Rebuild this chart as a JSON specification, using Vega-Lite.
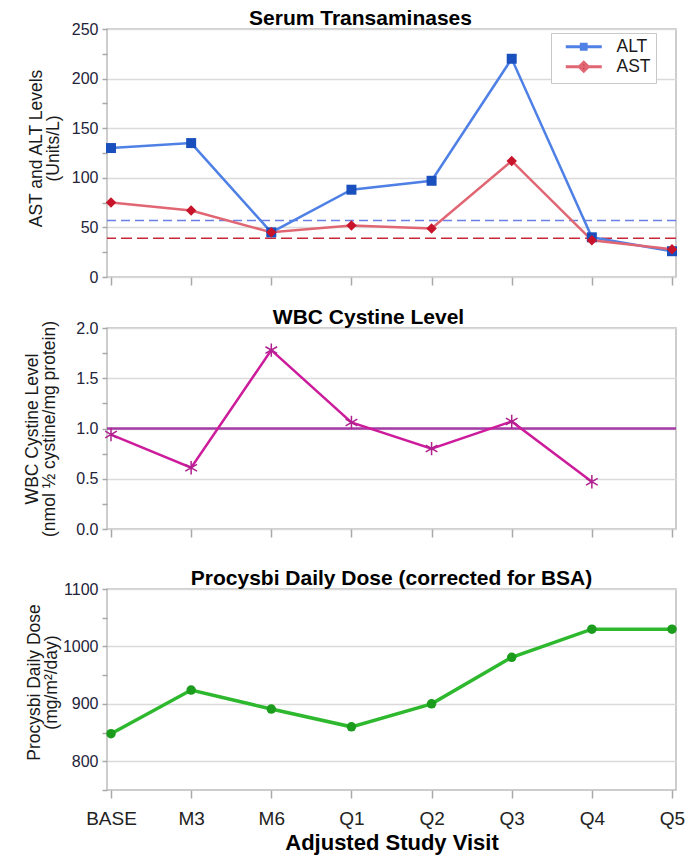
{
  "$schema": "https://vega.github.io/schema/vega-lite/v6.json",
  "background": "white",
  "padding": {"left": 22, "top": 7, "right": 5, "bottom": 5},
  "spacing": 19,
  "config": {
    "font": "Liberation Sans",
    "view": {"stroke": "#bdbdbd", "strokeWidth": 1.5},
    "title": {"fontSize": 21, "fontWeight": "bold", "color": "#000", "offset": -8, "anchor": "middle", "frame": "group"},
    "axis": {
      "labelFont": "Liberation Sans", "labelFontSize": 16, "labelColor": "#23233a", "labelOverlap": false,
      "titleFont": "Liberation Sans", "titleFontWeight": "normal", "titleFontSize": 17.5, "titleLineHeight": 17, "titleColor": "#1a1a1a",
      "domain": false, "tickColor": "#a8a8a8", "tickWidth": 1.5, "gridColor": "#dadada", "gridWidth": 1.5
    }
  },
  "datasets": {
    "trans": [
      {"visit": "BASE", "test": "ALT", "value": 130},
      {"visit": "M3", "test": "ALT", "value": 135},
      {"visit": "M6", "test": "ALT", "value": 45},
      {"visit": "Q1", "test": "ALT", "value": 88},
      {"visit": "Q2", "test": "ALT", "value": 97},
      {"visit": "Q3", "test": "ALT", "value": 220},
      {"visit": "Q4", "test": "ALT", "value": 40},
      {"visit": "Q5", "test": "ALT", "value": 26},
      {"visit": "BASE", "test": "AST", "value": 75},
      {"visit": "M3", "test": "AST", "value": 67},
      {"visit": "M6", "test": "AST", "value": 45},
      {"visit": "Q1", "test": "AST", "value": 52},
      {"visit": "Q2", "test": "AST", "value": 49},
      {"visit": "Q3", "test": "AST", "value": 117},
      {"visit": "Q4", "test": "AST", "value": 37},
      {"visit": "Q5", "test": "AST", "value": 28}
    ],
    "uln": [
      {"test": "ALT", "uln": 57},
      {"test": "AST", "uln": 39}
    ],
    "wbc": [
      {"visit": "BASE", "wbc": 0.94},
      {"visit": "M3", "wbc": 0.61},
      {"visit": "M6", "wbc": 1.78},
      {"visit": "Q1", "wbc": 1.06},
      {"visit": "Q2", "wbc": 0.8},
      {"visit": "Q3", "wbc": 1.07},
      {"visit": "Q4", "wbc": 0.47}
    ],
    "wbcref": [{"ref": 1.0}],
    "dose": [
      {"visit": "BASE", "dose": 848},
      {"visit": "M3", "dose": 924},
      {"visit": "M6", "dose": 891},
      {"visit": "Q1", "dose": 860},
      {"visit": "Q2", "dose": 900},
      {"visit": "Q3", "dose": 981},
      {"visit": "Q4", "dose": 1030},
      {"visit": "Q5", "dose": 1030}
    ]
  },
  "vconcat": [
    {
      "width": 569,
      "height": 248,
      "title": {"text": "Serum Transaminases", "dx": -31},
      "layer": [
        {
          "data": {"name": "uln"},
          "transform": [{"filter": "datum.test === 'ALT'"}],
          "mark": {"type": "rule", "strokeWidth": 1.5, "strokeDash": [9, 5], "color": "#6a7ee6"},
          "encoding": {
            "y": {"field": "uln", "type": "quantitative", "scale": {"domain": [0, 250], "nice": false}}
          }
        },
        {
          "data": {"name": "uln"},
          "transform": [{"filter": "datum.test === 'AST'"}],
          "mark": {"type": "rule", "strokeWidth": 1.5, "strokeDash": [11, 5], "color": "#c8283a"},
          "encoding": {
            "y": {"field": "uln", "type": "quantitative"}
          }
        },
        {
          "data": {"name": "trans"},
          "mark": {"type": "line", "strokeWidth": 2.5},
          "encoding": {
            "x": {"field": "visit", "type": "ordinal", "sort": null,
                  "scale": {"type": "point", "padding": 0.05},
                  "axis": {"labels": false, "title": null, "tickSize": 8, "grid": false}},
            "y": {"field": "value", "type": "quantitative",
                  "scale": {"domain": [0, 250], "nice": false},
                  "axis": {"title": ["AST and ALT Levels", "(Units/L)"], "titleX": -62, "titleY": 119,
                           "values": [0, 25, 50, 75, 100, 125, 150, 175, 200, 225, 250], "tickCount": 30,
                           "labelExpr": "datum.value % 50 === 0 ? datum.label : ''",
                           "labelOverlap": false,
                           "tickSize": 5, "labelPadding": 4,
                           "gridOpacity": {"condition": {"test": "datum.value % 50 === 0", "value": 1}, "value": 0}}},
            "stroke": {"field": "test", "type": "nominal",
                       "scale": {"domain": ["ALT", "AST"], "range": ["#4f80e6", "#e06673"]},
                       "legend": {"title": null, "orient": "none", "legendX": 444, "legendY": 4,
                                  "strokeColor": "#c8c8c8", "padding": 5, "fillColor": "white",
                                  "labelFontSize": 17.5, "labelColor": "#1a1a1a", "labelOffset": 24,
                                  "symbolSize": 144, "symbolStrokeWidth": 3, "rowPadding": 0, "symbolOffset": 19,
                                  "symbolType": "M-3,0L3,0",
                                  "encode": {"symbols": {"update": {
                                    "shape": {"signal": "datum.value === 'ALT' ? 'M-3,0L3,0M-0.4,-0.4L0.4,-0.4L0.4,0.4L-0.4,0.4Z' : 'M-3,0L3,0M0,-0.75L0.75,0L0,0.75L-0.75,0Z'"},
                                    "fill": {"signal": "datum.value === 'ALT' ? '#3a44d0' : '#c4101e'"},
                                    "fillOpacity": {"value": 1},
                                    "opacity": {"value": 1},
                                    "stroke": {"signal": "datum.value === 'ALT' ? '#5a6ce0' : '#e0202e'"}
                                  }}}}}
          }
        },
        {
          "data": {"name": "trans"},
          "transform": [{"filter": "datum.test === 'ALT'"}],
          "mark": {"type": "point", "filled": true, "opacity": 1, "size": 100, "shape": "square", "color": "#1a50be"},
          "encoding": {
            "x": {"field": "visit", "type": "ordinal", "sort": null},
            "y": {"field": "value", "type": "quantitative"}
          }
        },
        {
          "data": {"name": "trans"},
          "transform": [{"filter": "datum.test === 'AST'"}],
          "mark": {"type": "point", "filled": true, "opacity": 1, "size": 110, "shape": "diamond", "color": "#c8142a"},
          "encoding": {
            "x": {"field": "visit", "type": "ordinal", "sort": null},
            "y": {"field": "value", "type": "quantitative"}
          }
        }
      ]
    },
    {
      "width": 569,
      "height": 201,
      "title": {"text": "WBC Cystine Level", "dx": -23},
      "layer": [
        {
          "data": {"name": "wbcref"},
          "mark": {"type": "rule", "strokeWidth": 2.5, "color": "#a43ca6"},
          "encoding": {"y": {"field": "ref", "type": "quantitative", "scale": {"domain": [0, 2], "nice": false}}}
        },
        {
          "data": {"name": "wbc"},
          "mark": {"type": "line", "strokeWidth": 2.5, "color": "#cc1c9c"},
          "encoding": {
            "x": {"field": "visit", "type": "ordinal", "sort": null,
                  "scale": {"type": "point", "padding": 0.05, "domain": ["BASE", "M3", "M6", "Q1", "Q2", "Q3", "Q4", "Q5"]},
                  "axis": {"labels": false, "title": ".", "titleColor": "#ffffff", "titleFontSize": 9, "titlePadding": 0, "tickSize": 8, "grid": false}},
            "y": {"field": "wbc", "type": "quantitative",
                  "scale": {"domain": [0, 2], "nice": false},
                  "axis": {"title": ["WBC Cystine Level", "(nmol ½ cystine/mg protein)"], "titleX": -66,
                           "values": [0, 0.25, 0.5, 0.75, 1, 1.25, 1.5, 1.75, 2], "tickCount": 30,
                           "format": ".1f",
                           "labelExpr": "round(datum.value * 4) % 2 === 0 ? datum.label : ''",
                           "labelOverlap": false,
                           "tickSize": 5, "labelPadding": 4,
                           "gridOpacity": {"condition": {"test": "round(datum.value * 4) % 2 === 0", "value": 1}, "value": 0}}}
          }
        },
        {
          "data": {"name": "wbc"},
          "mark": {"type": "point", "filled": false, "opacity": 1, "size": 180, "strokeWidth": 1.5, "color": "#b0208e",
                   "shape": "M0,-1L0,1M-0.87,-0.5L0.87,0.5M-0.87,0.5L0.87,-0.5"},
          "encoding": {
            "x": {"field": "visit", "type": "ordinal", "sort": null},
            "y": {"field": "wbc", "type": "quantitative"}
          }
        }
      ]
    },
    {
      "width": 569,
      "height": 201,
      "title": "Procysbi Daily Dose (corrected for BSA)",
      "layer": [
        {
          "data": {"name": "dose"},
          "mark": {"type": "line", "strokeWidth": 3.5, "color": "#2eb82e"},
          "encoding": {
            "x": {"field": "visit", "type": "ordinal", "sort": null,
                  "scale": {"type": "point", "padding": 0.05},
                  "axis": {"title": "Adjusted Study Visit", "titleFontSize": 22, "titleFontWeight": "bold", "titleColor": "#000",
                           "labelAngle": 0, "labelFontSize": 19, "labelColor": "#222", "tickSize": 8, "labelPadding": 11, "titlePadding": 4, "grid": false}},
            "y": {"field": "dose", "type": "quantitative",
                  "scale": {"domain": [750, 1100], "nice": false},
                  "axis": {"title": ["Procysbi Daily Dose", "(mg/m²/day)"], "titleX": -64, "titleY": 93,
                           "values": [750, 800, 850, 900, 950, 1000, 1050, 1100], "tickCount": 30,
                           "format": "d",
                           "labelExpr": "datum.value % 100 === 0 ? datum.label : ''",
                           "labelOverlap": false,
                           "tickSize": 5, "labelPadding": 4,
                           "gridOpacity": {"condition": {"test": "datum.value % 100 === 0", "value": 1}, "value": 0}}}
          }
        },
        {
          "data": {"name": "dose"},
          "mark": {"type": "point", "filled": true, "opacity": 1, "size": 90, "color": "#1c9c1c"},
          "encoding": {
            "x": {"field": "visit", "type": "ordinal", "sort": null},
            "y": {"field": "dose", "type": "quantitative"}
          }
        }
      ]
    }
  ]
}
